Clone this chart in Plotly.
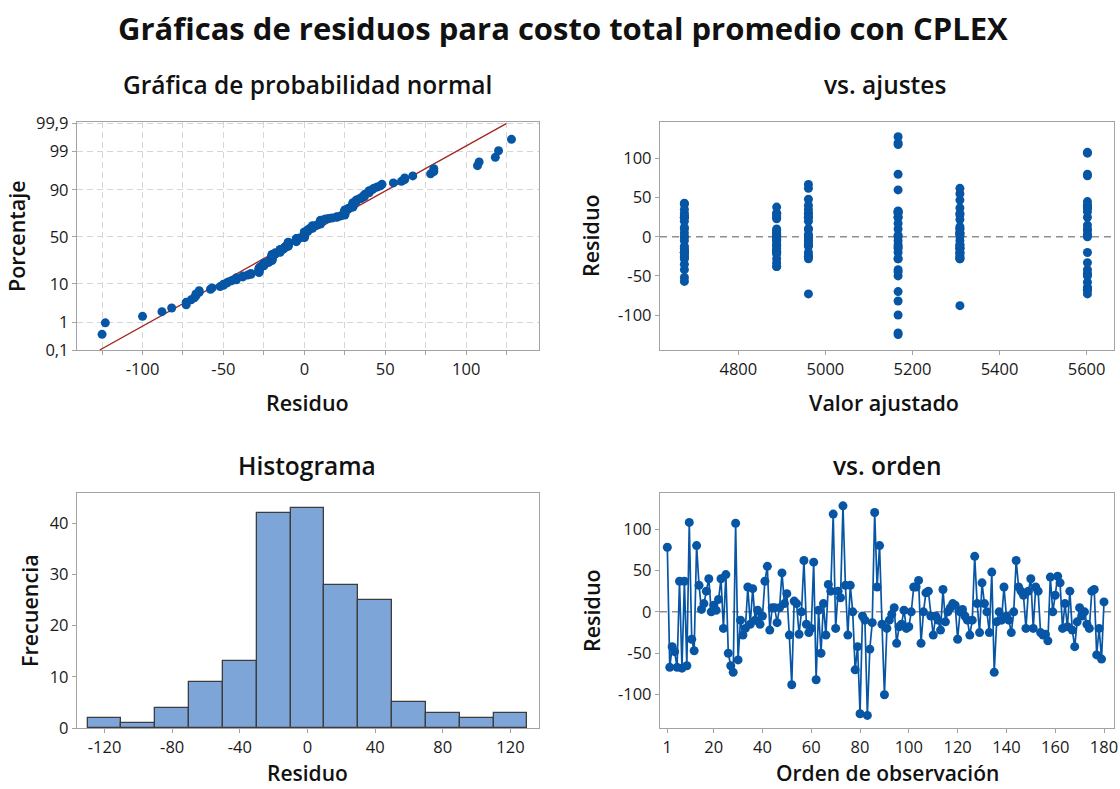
import numpy as np
import plotly.graph_objects as go
from statistics import NormalDist

# ---------------- data ----------------
residuals = [
    78, -67, -42, -48, -67, 37, -68, 37, -65, 108, -33, -47, 80, 32, 3, 10, 25, 40, 0, 8,
    2, 15, 40, -20, 45, -50, -65, -73, 107, -58,
    -10, -28, -20, 30, -15, 28, -10, 2, -15, -5, 37, 55, -22, 5, 5, -13, 5, 47, 10, 22,
    -28, -88, 13, 10, -27, 0, 62, -15, -25, -20,
    60, -82, 2, -50, 10, -28, 33, 25, 118, -20, 25, 17, 128, 32, -28, 32, 0, -70, -42, -123,
    -5, -10, -125, -45, -13, 120, 30, 80, -15, -100,
    -20, -10, -3, 5, -38, -18, -15, 2, -20, -18, 0, 30, 30, 38, -38, 0, 23, 25, -5, -28,
    -5, -10, -22, 27, -12, 0, 5, 10, 8, -33,
    0, 3, -5, -10, -28, -10, 67, 10, -25, 35, 10, 0, -25, 48, -73, -12, 0, -10, 30, -5,
    -10, -25, 0, 62, 30, 25, 20, -20, 25, 40,
    -20, 30, 25, -25, -28, -27, -35, 42, 0, 20, 43, 35, -20, 10, -18, 25, -22, -42, -12, 5,
    -5, 0, -15, -20, 25, 27, -52, -20, -57, 12,
]
fitted_levels = [5602, 5309, 5167, 4888, 4961, 4676]   # fitted value of each block of observations
obs_per_level = 30
hist_edges = list(range(-130, 131, 20))
prob_levels = [0.1, 1, 10, 50, 90, 99, 99.9]
prob_ticktext = ["0,1", "1", "10", "50", "90", "99", "99,9"]

# ---------------- derived ----------------
r = np.array(residuals, dtype=float)
n = len(r)
order = np.arange(1, n + 1)
fitted = np.repeat(fitted_levels, obs_per_level)
nd = NormalDist()
r_sorted = np.sort(r)
pct = (np.arange(1, n + 1) - 0.3) / (n + 0.4)
z_pts = np.array([nd.inv_cdf(p) for p in pct])
mu, sd = r.mean(), r.std(ddof=1)
z_line = np.array([nd.inv_cdf(0.001), nd.inv_cdf(0.999)])
x_line = mu + sd * z_line
prob_tickvals = [nd.inv_cdf(p / 100) for p in prob_levels]
counts, edges = np.histogram(r, bins=hist_edges)
centers = (edges[:-1] + edges[1:]) / 2

W, H = 1120, 789
BLUE = "#0756a5"
FONT = "Open Sans"
TICKF = dict(family=FONT, size=16.5, color="#1a1a1a")
FRAME = "#a3a3a3"


def px(x):
    return x / W


def py(y):
    return 1 - y / H


fig = go.Figure()

# normal probability plot
fig.add_trace(go.Scatter(x=x_line, y=z_line, mode="lines", line=dict(color="#a3231f", width=1.3),
                         xaxis="x", yaxis="y", hoverinfo="skip", cliponaxis=True))
fig.add_trace(go.Scatter(x=r_sorted, y=z_pts, mode="markers", marker=dict(color=BLUE, size=9),
                         xaxis="x", yaxis="y"))
# vs fitted
fig.add_trace(go.Scatter(x=fitted, y=r, mode="markers", marker=dict(color=BLUE, size=9),
                         xaxis="x2", yaxis="y2"))
# histogram
fig.add_trace(go.Bar(x=centers, y=counts, width=20,
                     marker=dict(color="#7da5d8", line=dict(color="#3d3d3d", width=1.3)),
                     xaxis="x3", yaxis="y3"))
# vs order
fig.add_trace(go.Scatter(x=order, y=r, mode="lines+markers", line=dict(color=BLUE, width=1.7),
                         marker=dict(color=BLUE, size=9), xaxis="x4", yaxis="y4"))

for xa, ya in (("x2", "y2"), ("x4", "y4")):
    fig.add_shape(type="line", xref=xa + " domain", yref=ya, x0=0, x1=1, y0=0, y1=0,
                  line=dict(color="#8f8f8f", width=1.5, dash="7px,5px"), layer="below")

common = dict(showline=True, mirror=True, linecolor=FRAME, linewidth=1.3, ticks="outside",
              ticklen=4, tickcolor=FRAME, tickfont=TICKF, zeroline=False, fixedrange=True,
              automargin=False)

Lx = [px(77), px(539)]
Rx = [px(660), px(1114)]
Ty = [py(350), py(122)]
By = [py(728), py(493)]

grid_vals = list(range(-125, 126, 25))
fig.update_layout(
    width=W, height=H, margin=dict(l=0, r=0, t=0, b=0, autoexpand=False),
    paper_bgcolor="white", plot_bgcolor="white", showlegend=False, bargap=0,
    xaxis=dict(domain=Lx, anchor="y", range=[-140.5, 145], tickvals=grid_vals,
               ticktext=["" if v % 50 else ("-" + str(-v) if v < 0 else str(v)) for v in grid_vals],
               showgrid=True, gridcolor="#d6d6d6", gridwidth=1.3, griddash="6px,4px", **common),
    yaxis=dict(domain=Ty, anchor="x", range=[z_line[0], 3.135], tickvals=prob_tickvals,
               ticktext=prob_ticktext, showgrid=True, gridcolor="#d6d6d6", gridwidth=1.3,
               griddash="6px,4px", **common),
    xaxis2=dict(domain=Rx, anchor="y2", range=[4620, 5663], tickvals=[4800, 5000, 5200, 5400, 5600],
                showgrid=False, **common),
    yaxis2=dict(domain=Ty, anchor="x2", range=[-144.7, 146.8], tickvals=[-100, -50, 0, 50, 100],
                ticktext=["-100", "-50", "0", "50", "100"], showgrid=False, **common),
    xaxis3=dict(domain=Lx, anchor="y3", range=[-136.3, 136.9], tickvals=[-120, -80, -40, 0, 40, 80, 120],
                ticktext=["-120", "-80", "-40", "0", "40", "80", "120"], showgrid=False, **common),
    yaxis3=dict(domain=By, anchor="x3", range=[0, 45.9], tickvals=[0, 10, 20, 30, 40],
                showgrid=False, **common),
    xaxis4=dict(domain=Rx, anchor="y4", range=[-2, 184.1], tickvals=[1] + list(range(20, 181, 20)),
                showgrid=False, **common),
    yaxis4=dict(domain=By, anchor="x4", range=[-140.2, 143.5], tickvals=[-100, -50, 0, 50, 100],
                ticktext=["-100", "-50", "0", "50", "100"], showgrid=False, **common),
)

texts = [
    ("Gráficas de residuos para costo total promedio con CPLEX", 563, 28, 31, 700, 0),
    ("Gráfica de probabilidad normal", 307, 85, 24.5, 600, 0),
    ("vs. ajustes", 885, 85, 24.5, 600, 0),
    ("Histograma", 307, 465, 24.5, 600, 0),
    ("vs. orden", 887, 465, 24.5, 600, 0),
    ("Residuo", 307, 402, 21.5, 600, 0),
    ("Valor ajustado", 884, 402, 21.5, 600, 0),
    ("Residuo", 307, 773, 21, 600, 0),
    ("Orden de observación", 887, 773, 21, 600, 0),
    ("Porcentaje", 17, 236, 21.5, 600, -90),
    ("Residuo", 591, 236, 21.5, 600, -90),
    ("Frecuencia", 29, 611, 21.5, 600, -90),
    ("Residuo", 591, 611, 21.5, 600, -90),
]
for t, x, y, s, w, ang in texts:
    fig.add_annotation(text=t, x=px(x), y=py(y), xref="paper", yref="paper", showarrow=False,
                       xanchor="center", yanchor="middle", textangle=ang,
                       font=dict(family=FONT, size=s, color="#111111", weight=w))

fig.write_html("out.html", config={"displayModeBar": False},
               post_script="document.body.style.margin='0';document.body.style.overflow='hidden';"
                           "document.documentElement.style.overflow='hidden';")
